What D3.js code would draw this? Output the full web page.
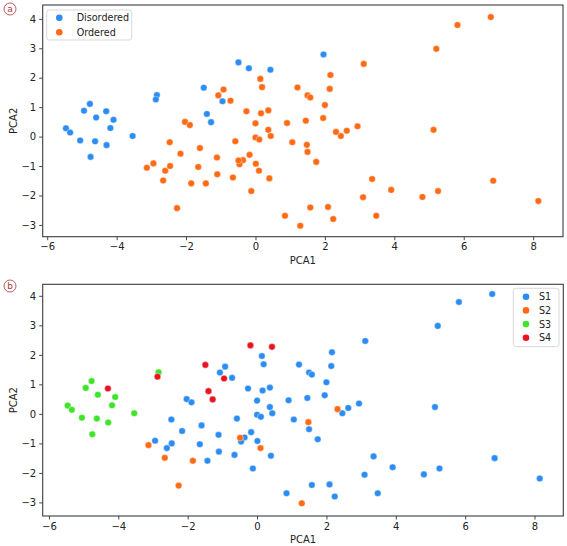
<!DOCTYPE html>
<html><head><meta charset="utf-8">
<script src="https://cdn.jsdelivr.net/npm/d3@7"></script>
<style>body{margin:0;background:#fff;} text{font-family:"DejaVu Sans",sans-serif;}</style>
</head><body><svg id="c" width="567" height="546"></svg>
<script>
// PCA scores [PCA1, PCA2]
const s1 = [[-2.03,0.50],[-1.89,0.39],[-2.94,-0.91],[-2.60,-1.16],[-2.46,-1.00],[-2.47,-0.19],[-2.16,-0.58],
  [-1.60,-0.39],[-1.65,-1.03],[3.12,2.47],[0.14,1.96],[0.19,1.68],[2.16,2.09],[1.21,1.67],[2.14,1.62],
  [-0.92,1.60],[-1.07,1.40],[-0.72,1.22],[1.50,1.40],[1.58,1.33],[2.00,1.07],[-0.26,0.86],[0.16,0.79],
  [0.37,0.89],[0.00,0.45],[0.91,0.46],[1.45,0.54],[1.95,0.63],[2.94,0.35],[0.37,0.23],[0.44,0.02],
  [0.00,-0.03],[0.11,-0.10],[-0.58,-0.16],[1.06,-0.19],[1.50,-0.52],[2.46,0.02],[2.63,0.20],
  [-1.11,-0.71],[-0.17,-0.62],[-0.36,-0.80],[-0.46,-0.94],[0.01,-0.92],[1.75,-0.86],[-1.10,-1.28],
  [-0.65,-1.39],[0.40,-1.42],[-1.43,-1.59],[-0.12,-1.85],[3.36,-1.44],[3.10,-2.06],[1.58,-2.41],
  [2.09,-2.39],[0.85,-2.69],[2.24,-2.80],[3.48,-2.69],[5.13,0.23],[3.91,-1.81],[4.81,-2.05],
  [5.26,-1.85],[6.85,-1.50],[8.15,-2.19],[6.78,4.06],[5.82,3.79],[5.21,2.98]];
const s2 = [[-3.13,-1.06],[-2.66,-1.49],[-2.26,-2.43],[-1.85,-1.59],[1.48,-0.28],[2.32,0.16],
  [-0.49,-0.81],[0.10,-1.16],[1.29,-3.03]];
const s3 = [[-5.46,0.28],[-5.34,0.14],[-4.94,0.88],[-4.77,1.11],[-4.59,0.65],[-4.09,0.57],[-4.18,0.29],
  [-5.05,-0.13],[-4.62,-0.16],[-4.75,-0.69],[-4.29,-0.29],[-3.54,0.02],[-2.84,1.41]];
const s4 = [[-4.30,0.86],[-2.87,1.26],[-0.19,2.32],[0.43,2.27],[-1.49,1.66],[-0.95,1.20],[-1.40,0.77],[-1.28,0.49]];
const disorderedOnlyA = [[-0.49,2.52],[1.96,2.79]];

const xTicks = [-6,-4,-2,0,2,4,6,8];
const yTicks = [-3,-2,-1,0,1,2,3,4];

const panelA = [
  {name:"Disordered", color:"#2b8cf2", pts: s3.concat(s4, disorderedOnlyA)},
  {name:"Ordered", color:"#ff6a14", pts: s1.concat(s2)}
];
const panelB = [
  {name:"S1", color:"#2b8cf2", pts: s1},
  {name:"S2", color:"#ff6a14", pts: s2},
  {name:"S3", color:"#3ee42a", pts: s3},
  {name:"S4", color:"#ea1320", pts: s4}
];

const svg = d3.select("#c");
const fmt = d => (d<0 ? "\u2212"+Math.abs(d) : String(d));

function panel(cfg){
  const g = svg.append("g");
  const x = d3.scaleLinear().domain(cfg.xd).range([cfg.l, cfg.r]);
  const y = d3.scaleLinear().domain(cfg.yd).range([cfg.b, cfg.t]);
  const ax = g.append("g").attr("transform",`translate(0,${cfg.b})`)
    .call(d3.axisBottom(x).tickValues(xTicks).tickFormat(fmt).tickSize(3.5).tickPadding(3));
  const ay = g.append("g").attr("transform",`translate(${cfg.l},0)`)
    .call(d3.axisLeft(y).tickValues(yTicks).tickFormat(fmt).tickSize(3.5).tickPadding(3));
  [ax,ay].forEach(a=>{
    a.select(".domain").remove();
    a.selectAll("line").attr("stroke","#333").attr("stroke-width",0.9);
    a.selectAll("text").attr("font-size",10).attr("fill","#222").attr("font-family","DejaVu Sans");
  });
  g.append("rect").attr("x",cfg.l).attr("y",cfg.t).attr("width",cfg.r-cfg.l).attr("height",cfg.b-cfg.t)
    .attr("fill","none").attr("stroke","#3a3f44").attr("stroke-width",1.1);
  cfg.series.forEach(s=>{
    g.append("g").selectAll("circle").data(s.pts).join("circle")
      .attr("cx",d=>x(d[0])).attr("cy",d=>y(d[1])).attr("r",3.3)
      .attr("fill",s.color).attr("stroke","#fff").attr("stroke-width",0.4);
  });
  g.append("text").attr("x",(cfg.l+cfg.r)/2).attr("y",cfg.b+27).attr("text-anchor","middle")
    .attr("font-size",10).attr("fill","#222").text("PCA1");
  g.append("text").attr("transform",`translate(17,${(cfg.t+cfg.b)/2}) rotate(-90)`).attr("text-anchor","middle")
    .attr("font-size",10).attr("fill","#222").text("PCA2");
  // legend
  const L = cfg.legend;
  const lg = g.append("g");
  lg.append("rect").attr("x",L.x).attr("y",L.y).attr("width",L.w).attr("height",L.h).attr("rx",2.5)
    .attr("fill","#fff").attr("fill-opacity",0.85).attr("stroke","#d5d5d5").attr("stroke-width",0.9);
  cfg.series.forEach((s,i)=>{
    const cy = L.y + L.first + i*L.step;
    lg.append("circle").attr("cx",L.mx).attr("cy",cy).attr("r",3.3).attr("fill",s.color);
    lg.append("text").attr("x",L.tx).attr("y",cy+3.5).attr("font-size",9.6).attr("fill","#222").text(s.name);
  });
  // panel tag
  svg.append("circle").attr("cx",10).attr("cy",cfg.tagY).attr("r",6).attr("fill","none")
    .attr("stroke","#b0343a").attr("stroke-width",0.8);
  svg.append("text").attr("x",10).attr("y",cfg.tagY+3.3).attr("text-anchor","middle")
    .attr("font-size",9).attr("fill","#b0343a").text(cfg.tag);
}

panel({l:42.7, r:563, t:5, b:236.7, xd:[-6.13,8.86], yd:[-3.40,4.47], series:panelA, tag:"a", tagY:9,
  legend:{x:46.7,y:10,w:85,h:30,mx:59.3,tx:76.7,first:7.7,step:14.6}});
panel({l:42.7, r:563.3, t:284.3, b:516, xd:[-6.18,8.83], yd:[-3.46,4.39], series:panelB, tag:"b", tagY:286,
  legend:{x:513.3,y:288.3,w:45.7,h:58.4,mx:526,tx:539,first:8.4,step:13.7}});
</script></body></html>
